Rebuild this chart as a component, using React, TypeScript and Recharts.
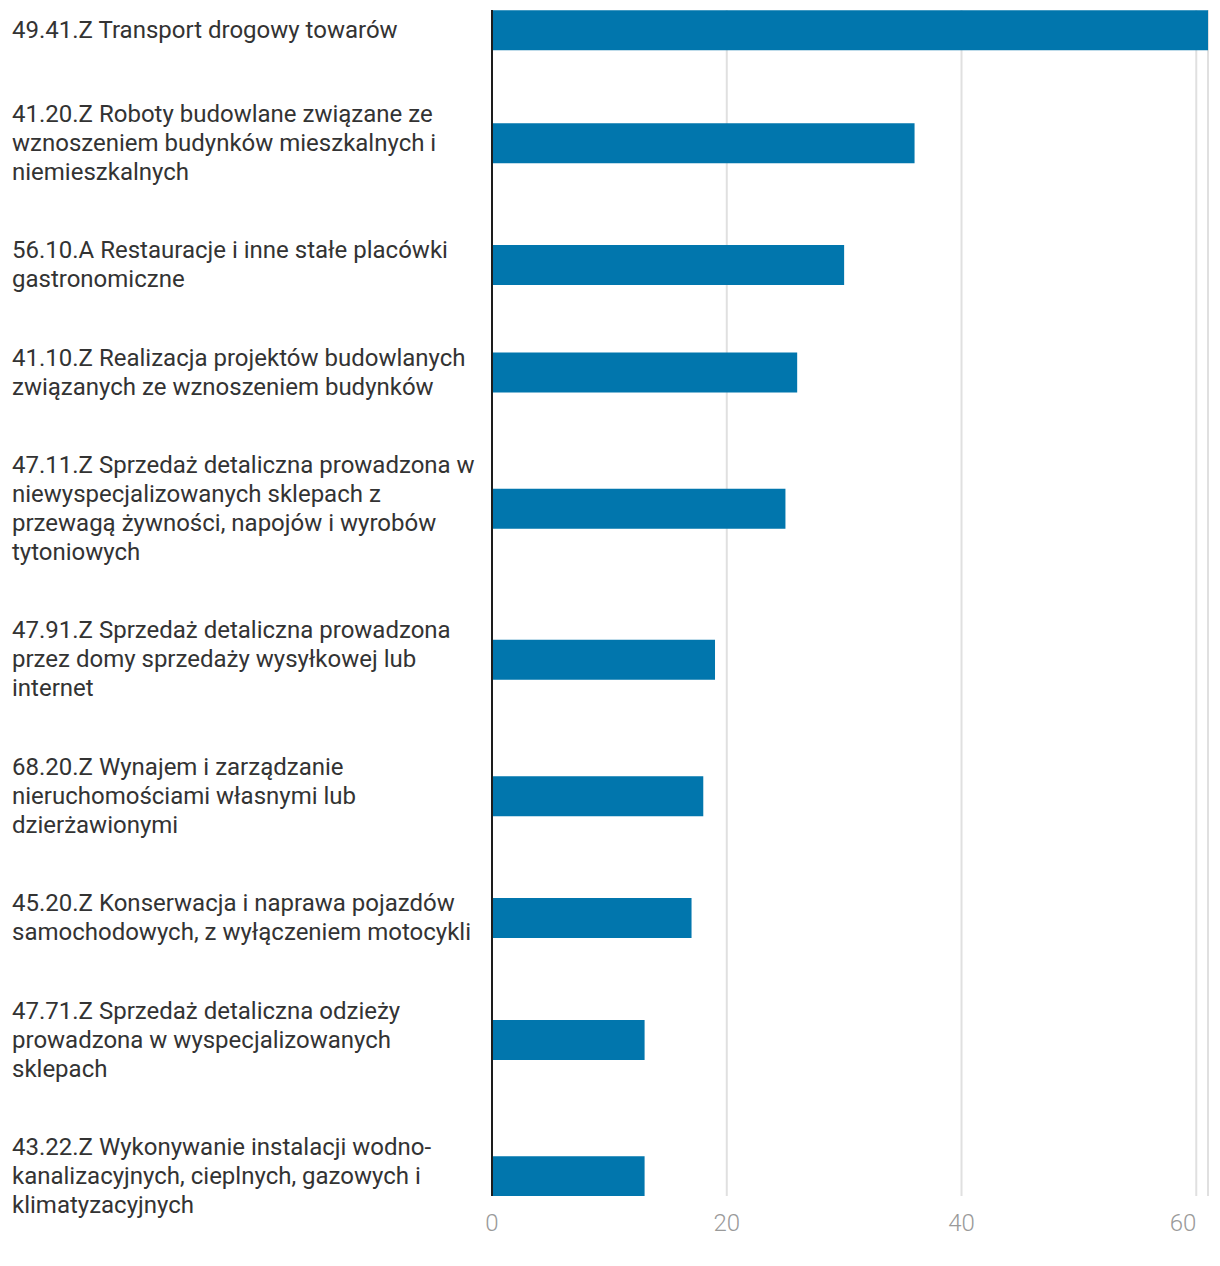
import React from "react";
import { BarChart, Bar, XAxis, YAxis, CartesianGrid } from "recharts";

// ---- data ----
const categoryLines: string[][] = [
  ["49.41.Z Transport drogowy towarów"],
  ["41.20.Z Roboty budowlane związane ze", "wznoszeniem budynków mieszkalnych i", "niemieszkalnych"],
  ["56.10.A Restauracje i inne stałe placówki", "gastronomiczne"],
  ["41.10.Z Realizacja projektów budowlanych", "związanych ze wznoszeniem budynków"],
  ["47.11.Z Sprzedaż detaliczna prowadzona w", "niewyspecjalizowanych sklepach z", "przewagą żywności, napojów i wyrobów", "tytoniowych"],
  ["47.91.Z Sprzedaż detaliczna prowadzona", "przez domy sprzedaży wysyłkowej lub", "internet"],
  ["68.20.Z Wynajem i zarządzanie", "nieruchomościami własnymi lub", "dzierżawionymi"],
  ["45.20.Z Konserwacja i naprawa pojazdów", "samochodowych, z wyłączeniem motocykli"],
  ["47.71.Z Sprzedaż detaliczna odzieży", "prowadzona w wyspecjalizowanych", "sklepach"],
  ["43.22.Z Wykonywanie instalacji wodno-", "kanalizacyjnych, cieplnych, gazowych i", "klimatyzacyjnych"],
];
const values = [61, 36, 30, 26, 25, 19, 18, 17, 13, 13];
const xTicks = [0, 20, 40, 60];

// ---- layout (row height depends on number of label lines) ----
const LINE_H = 29;
const BAR_H = 40;
const ROW_GAP = 49.5;
const rowHeights = categoryLines.map((l) => Math.max(l.length * LINE_H, BAR_H) + ROW_GAP);
const rowCenters: number[] = [];
rowHeights.forEach((h, i) => {
  rowCenters.push(i === 0 ? 0 : rowCenters[i - 1] + (rowHeights[i - 1] + h) / 2);
});

const data = categoryLines.map((lines, i) => ({
  name: lines.join(" "),
  value: values[i],
  row: rowCenters[i],
}));

const CHART_W = 1204;
const CHART_H = 1250;
const M_TOP = 2;
const X_AXIS_H = 62;
const PLOT_H = CHART_H - M_TOP - X_AXIS_H;
const EDGE = BAR_H / 2;
const yDomain = [-EDGE, rowCenters[rowCenters.length - 1] + EDGE];

const FONT = "Roboto, 'Noto Sans', sans-serif";

const YTick = (props: any) => {
  const { y, payload } = props;
  const idx = rowCenters.indexOf(payload.value);
  const lines = idx >= 0 ? categoryLines[idx] : [];
  const first = y + 8 - ((lines.length - 1) * LINE_H) / 2;
  return (
    <text x={4} y={first} fill="#333333" fontSize={24} fontFamily={FONT} textAnchor="start">
      {lines.map((l, i) => (
        <tspan key={i} x={4} y={first + i * LINE_H}>
          {l}
        </tspan>
      ))}
    </text>
  );
};

const XTick = (props: any) => {
  const { x, payload } = props;
  const isLast = payload.value === xTicks[xTicks.length - 1];
  return (
    <text
      x={x}
      y={M_TOP + PLOT_H + 35}
      fill="#9a9a9a"
      fontSize={24}
      fontWeight={300}
      fontFamily={FONT}
      textAnchor={isLast ? "end" : "middle"}
    >
      {payload.value}
    </text>
  );
};

export default function App() {
  return (
    <div style={{ width: CHART_W, height: CHART_H, background: "#fff" }}>
      <BarChart
        width={CHART_W}
        height={CHART_H}
        data={data}
        layout="vertical"
        margin={{ top: M_TOP, right: 4, bottom: 0, left: 0 }}
      >
        <CartesianGrid horizontal={false} vertical stroke="#e0e0e0" strokeWidth={2} />
        <XAxis
          type="number"
          dataKey="value"
          domain={[0, "dataMax"]}
          ticks={xTicks}
          axisLine={false}
          tickLine={false}
          height={X_AXIS_H}
          tick={<XTick />}
        />
        <YAxis
          type="number"
          dataKey="row"
          domain={yDomain}
          ticks={rowCenters}
          width={484}
          axisLine={{ stroke: "#1d1d1d", strokeWidth: 2 }}
          tickLine={false}
          tick={<YTick />}
          allowDataOverflow
          interval={0}
        />
        <Bar dataKey="value" fill="#0176ad" barSize={BAR_H} isAnimationActive={false} />
      </BarChart>
    </div>
  );
}
